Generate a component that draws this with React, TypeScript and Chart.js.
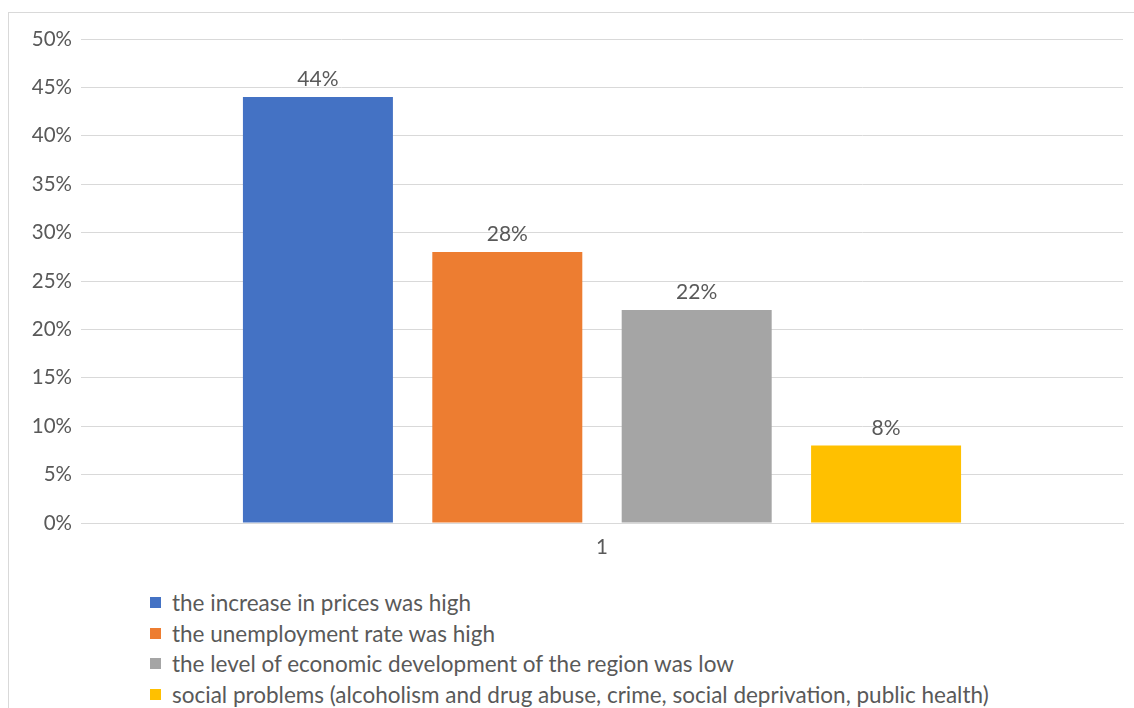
import React, { useEffect, useRef } from "react";
import { Chart, registerables } from "chart.js";

Chart.register(...registerables);

const categories = ["1"];
const seriesLabels = [
  "the increase in prices was high",
  "the unemployment rate was high",
  "the level of economic development of the region was low",
  "social problems (alcoholism and drug abuse, crime, social deprivation, public health)",
];
const seriesValues = [44, 28, 22, 8];
const seriesColors = ["#4472C4", "#ED7D31", "#A5A5A5", "#FFC000"];
const yTicks = [0, 5, 10, 15, 20, 25, 30, 35, 40, 45, 50];

const FONT = "Lato, 'Open Sans', sans-serif";
const TEXT = "#595959";

const valueLabels = {
  id: "valueLabels",
  afterDatasetsDraw(chart: any) {
    const ctx = chart.ctx;
    ctx.save();
    ctx.font = `21px ${FONT}`;
    ctx.fillStyle = TEXT;
    ctx.textAlign = "center";
    ctx.textBaseline = "bottom";
    chart.data.datasets.forEach((ds: any, i: number) => {
      const meta = chart.getDatasetMeta(i);
      meta.data.forEach((bar: any, j: number) => {
        ctx.fillText(`${ds.data[j]}%`, bar.x, bar.y - 7);
      });
    });
    ctx.restore();
  },
};

export default function App() {
  const canvasRef = useRef<HTMLCanvasElement | null>(null);

  useEffect(() => {
    if (!canvasRef.current) return;
    const chart = new Chart(canvasRef.current, {
      type: "bar",
      data: {
        labels: categories,
        datasets: seriesLabels.map((label, i) => ({
          label,
          data: [seriesValues[i]],
          backgroundColor: seriesColors[i],
          categoryPercentage: 0.727,
          barPercentage: 0.792,
        })),
      },
      options: {
        animation: false,
        responsive: false,
        maintainAspectRatio: false,
        layout: { padding: { top: 26, right: 11, left: 0, bottom: 0 } },
        plugins: {
          legend: { display: false },
          tooltip: { enabled: false },
        },
        scales: {
          x: {
            grid: { display: false, drawTicks: false },
            border: { color: "#d9d9d9", width: 1 },
            ticks: { color: TEXT, font: { family: FONT, size: 20.5 }, padding: 12 },
            afterFit: (s: any) => {
              s.height = 40;
            },
          },
          y: {
            min: 0,
            max: 50,
            afterBuildTicks: (s: any) => {
              s.ticks = yTicks.map((v) => ({ value: v }));
            },
            grid: { color: "#d9d9d9", lineWidth: 1, drawTicks: false },
            border: { display: false },
            ticks: {
              color: TEXT,
              font: { family: FONT, size: 20.5 },
              padding: 9,
              callback: (v: any) => `${v}%`,
            },
            afterFit: (s: any) => {
              s.width = 72;
            },
          },
        },
      },
      plugins: [valueLabels],
    });
    return () => chart.destroy();
  }, []);

  return (
    <div
      style={{
        position: "absolute",
        left: 8,
        top: 12,
        width: 1140,
        height: 720,
        border: "1px solid #d9d9d9",
        background: "#fff",
        fontFamily: FONT,
      }}
    >
      <canvas
        ref={canvasRef}
        width={1125}
        height={550}
        style={{ position: "absolute", left: 0, top: 0, width: 1125, height: 550 }}
      />
      <div style={{ position: "absolute", left: 141, top: 574 }}>
        {seriesLabels.map((label, i) => (
          <div
            key={label}
            style={{
              display: "flex",
              alignItems: "center",
              height: 30.7,
              fontSize: 22.5,
              color: TEXT,
              whiteSpace: "nowrap",
            }}
          >
            <span
              style={{
                display: "inline-block",
                width: 11,
                height: 11,
                background: seriesColors[i],
                marginRight: 11,
              }}
            />
            {label}
          </div>
        ))}
      </div>
    </div>
  );
}
